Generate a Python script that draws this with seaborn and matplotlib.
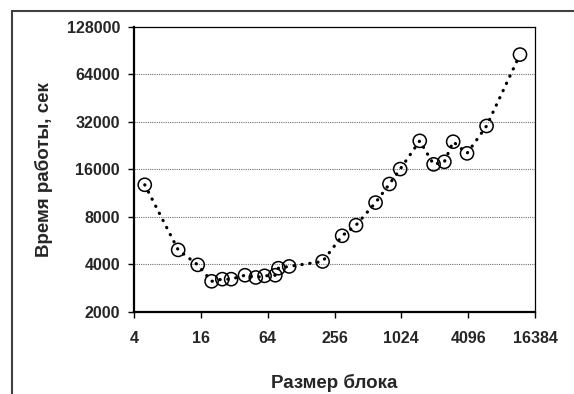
import matplotlib
matplotlib.use("Agg")
import matplotlib.pyplot as plt
from matplotlib.patches import Rectangle
from matplotlib.ticker import FixedLocator, FixedFormatter, NullLocator
import seaborn as sns
import pandas as pd

block_size = [5, 10, 15, 20, 25, 30, 40, 50, 60, 75, 80, 100, 200, 300, 400,
              600, 800, 1000, 1500, 2000, 2500, 3000, 4000, 6000, 12000]
run_time = [12800, 4950, 3980, 3130, 3230, 3230, 3420, 3310, 3390, 3420, 3790,
            3890, 4180, 6080, 7100, 9870, 12950, 16100, 24300, 17250, 17900,
            24000, 20250, 30200, 85600]
x_ticks = [4, 16, 64, 256, 1024, 4096, 16384]
y_ticks = [2000, 4000, 8000, 16000, 32000, 64000, 128000]

df = pd.DataFrame({"x": block_size, "y": run_time})

sns.set_style("white")
plt.rcParams["font.family"] = ["Liberation Sans", "DejaVu Sans"]
plt.rcParams["font.weight"] = "bold"

fig = plt.figure(figsize=(5.74, 3.94), dpi=100)
ax = fig.add_axes([134/574, 1-312/394, (535-134)/574, (312-27)/394])

ax.set_xscale("log", base=2)
ax.set_yscale("log", base=2)

sns.lineplot(data=df, x="x", y="y", ax=ax, color="black", lw=2.3,
             dashes=False, zorder=3)
line = ax.lines[-1]
line.set_linestyle((0, (0.1, 2.4)))
line.set_dash_capstyle("round")

sns.scatterplot(data=df, x="x", y="y", ax=ax, s=90, marker="o",
                facecolor="none", edgecolor="black", linewidth=1.1, zorder=4)

ax.set_xlim(4, 16384)
ax.set_ylim(2000, 128000)
ax.xaxis.set_major_locator(FixedLocator(x_ticks))
ax.xaxis.set_major_formatter(FixedFormatter([str(v) for v in x_ticks]))
ax.xaxis.set_minor_locator(NullLocator())
ax.yaxis.set_major_locator(FixedLocator(y_ticks))
ax.yaxis.set_major_formatter(FixedFormatter([str(v) for v in y_ticks]))
ax.yaxis.set_minor_locator(NullLocator())

for v in y_ticks[1:-1]:
    ax.axhline(v, color="#707070", lw=0.8, ls=(0, (1, 1)), zorder=1)

ax.tick_params(axis="both", which="major", direction="out", length=4,
               width=1.0, labelsize=11.5, color="black", bottom=True, left=True)
for lbl in ax.get_xticklabels() + ax.get_yticklabels():
    lbl.set_fontweight("bold")
ax.tick_params(axis="x", pad=10)
ax.tick_params(axis="y", pad=6)

for side in ["left", "bottom"]:
    ax.spines[side].set_linewidth(1.6)
    ax.spines[side].set_color("black")
for side in ["top", "right"]:
    ax.spines[side].set_linewidth(0.9)
    ax.spines[side].set_color("black")

ax.set_xlabel("Размер блока", fontsize=13.5, fontweight="bold", labelpad=20)
ax.set_ylabel("Время работы, сек", fontsize=13.5, fontweight="bold", labelpad=10)

fig.patches.append(Rectangle((12/574, -0.2), 1.2, 1 - 11/394 + 0.2,
                             transform=fig.transFigure, fill=False,
                             edgecolor="#404040", lw=1.5, zorder=0))

fig.savefig("out.png", dpi=100)
